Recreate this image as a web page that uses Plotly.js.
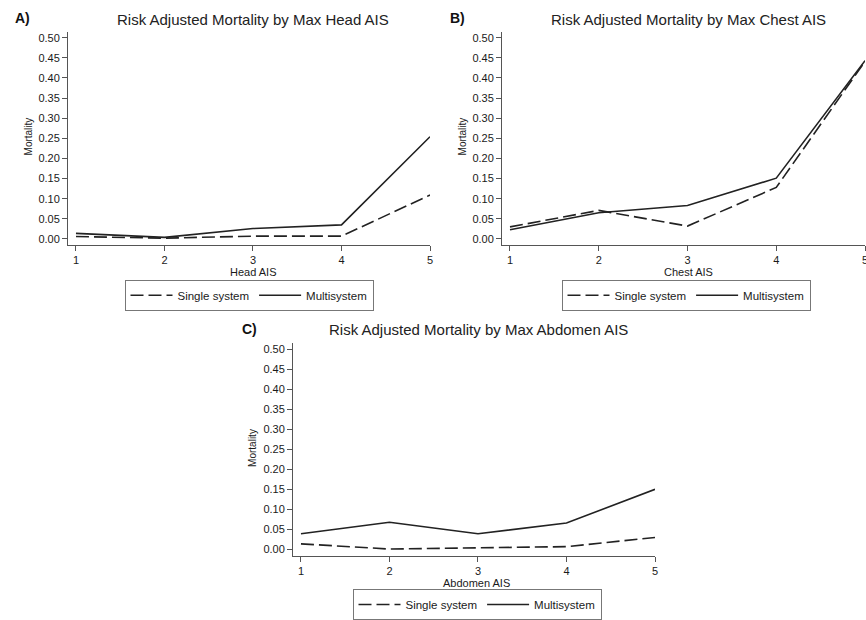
<!DOCTYPE html>
<html>
<head>
<meta charset="utf-8">
<script src="https://cdn.plot.ly/plotly-3.0.1.min.js"></script>
<style>html,body{margin:0;padding:0;background:#fff;}#chart{width:866px;height:620px;}</style>
</head>
<body>
<div id="chart"></div>
<script>
// ---- data ----
const aisLevels = [1, 2, 3, 4, 5];
const headSingle = [0.006, 0.002, 0.007, 0.007, 0.109];
const headMulti = [0.014, 0.004, 0.026, 0.035, 0.254];
const chestSingle = [0.030, 0.071, 0.032, 0.128, 0.441];
const chestMulti = [0.023, 0.065, 0.083, 0.151, 0.443];
const abdSingle = [0.014, 0.001, 0.004, 0.007, 0.030];
const abdMulti = [0.039, 0.068, 0.039, 0.066, 0.150];
const seriesNames = ["Single system", "Multisystem"];
const panelLabels = ["A)", "B)", "C)"];
const panelTitles = ["Risk Adjusted Mortality by Max Head AIS",
                     "Risk Adjusted Mortality by Max Chest AIS",
                     "Risk Adjusted Mortality by Max Abdomen AIS"];
const xTitles = ["Head AIS", "Chest AIS", "Abdomen AIS"];
const yTitle = "Mortality";
const yTickVals = [0, 0.05, 0.10, 0.15, 0.20, 0.25, 0.30, 0.35, 0.40, 0.45, 0.50];

// ---- layout helpers ----
const W = 866, H = 620;
const px = v => v / W;
const py = v => 1 - v / H;
const FONT = "Liberation Sans, Arial, sans-serif";
const axisColor = "#555";
const textColor = "#1a1a1a";

const panels = [
  {single: headSingle, multi: headMulti, xl: 68, xr: 430, yt: 32, yb: 248, lab: [22, 18], title: [253, 20], legend: [249, 283], xt: [253, 275], yt2: [28, 138]},
  {single: chestSingle, multi: chestMulti, xl: 502, xr: 865, yt: 32, yb: 248, lab: [457, 18], title: [688, 20], legend: [686, 283], xt: [688, 275], yt2: [462, 138]},
  {single: abdSingle, multi: abdMulti, xl: 293, xr: 655, yt: 347, yb: 562, lab: [250, 333], title: [478, 333], legend: [477, 596], xt: [477, 590], yt2: [253, 453]}
];

const traces = [];
const layout = {
  width: W, height: H,
  margin: {l: 0, r: 0, t: 0, b: 0},
  paper_bgcolor: "#fff", plot_bgcolor: "#fff",
  font: {family: FONT, color: textColor, size: 11},
  annotations: []
};

panels.forEach((p, i) => {
  const sfx = i === 0 ? "" : String(i + 1);
  const legendId = "legend" + sfx;
  traces.push({
    x: aisLevels, y: p.single, type: "scatter", mode: "lines", name: seriesNames[0],
    xaxis: "x" + sfx, yaxis: "y" + sfx, legend: legendId,
    line: {color: "#222", width: 1.6, dash: "13px,5px"}
  });
  traces.push({
    x: aisLevels, y: p.multi, type: "scatter", mode: "lines", name: seriesNames[1],
    xaxis: "x" + sfx, yaxis: "y" + sfx, legend: legendId,
    line: {color: "#222", width: 1.6}
  });
  layout["xaxis" + sfx] = {
    domain: [px(p.xl), px(p.xr)], anchor: "y" + sfx,
    range: [0.91, 5.0], tickvals: aisLevels, ticks: "outside", ticklen: 5,
    ticklabelstandoff: 0, ticklabeloverflow: "allow",
    tickcolor: axisColor, showline: true, linecolor: axisColor, linewidth: 1,
    showgrid: false, zeroline: false, tickfont: {size: 11, family: FONT, color: textColor},
    fixedrange: true
  };
  layout["yaxis" + sfx] = {
    domain: [py(p.yb), py(p.yt)], anchor: "x" + sfx,
    range: [-0.0155, 0.515], tickvals: yTickVals, tickformat: ".2f", ticks: "outside", ticklen: 5,
    tickcolor: axisColor, showline: true, linecolor: axisColor, linewidth: 1,
    showgrid: false, zeroline: false, tickfont: {size: 11, family: FONT, color: textColor},
    fixedrange: true
  };
  layout[legendId] = {
    orientation: "h", x: px(p.legend[0]), y: py(p.legend[1]), xanchor: "center", yanchor: "top",
    bgcolor: "#fff", bordercolor: "#777", borderwidth: 1,
    font: {size: 11.5, family: FONT, color: textColor}, itemwidth: 42
  };
  layout.annotations.push(
    {text: "<b>" + panelLabels[i] + "</b>", x: px(p.lab[0]), y: py(p.lab[1]), xref: "paper", yref: "paper",
     xanchor: "center", yanchor: "middle", showarrow: false, font: {size: 14, family: FONT, color: "#111"}},
    {text: panelTitles[i], x: px(p.title[0]), y: py(p.title[1]), xref: "paper", yref: "paper",
     xanchor: "center", yanchor: "middle", showarrow: false, font: {size: 15, family: FONT, color: "#222"}},
    {text: xTitles[i], x: px(p.xt[0]), y: py(p.xt[1]), xref: "paper", yref: "paper",
     xanchor: "center", yanchor: "middle", showarrow: false, font: {size: 11, family: FONT, color: textColor}},
    {text: yTitle, x: px(p.yt2[0]), y: py(p.yt2[1]), xref: "paper", yref: "paper", textangle: -90,
     xanchor: "center", yanchor: "middle", showarrow: false, font: {size: 10, family: FONT, color: textColor}}
  );
});

Plotly.newPlot("chart", traces, layout, {displayModeBar: false, staticPlot: true});
</script>
</body>
</html>
